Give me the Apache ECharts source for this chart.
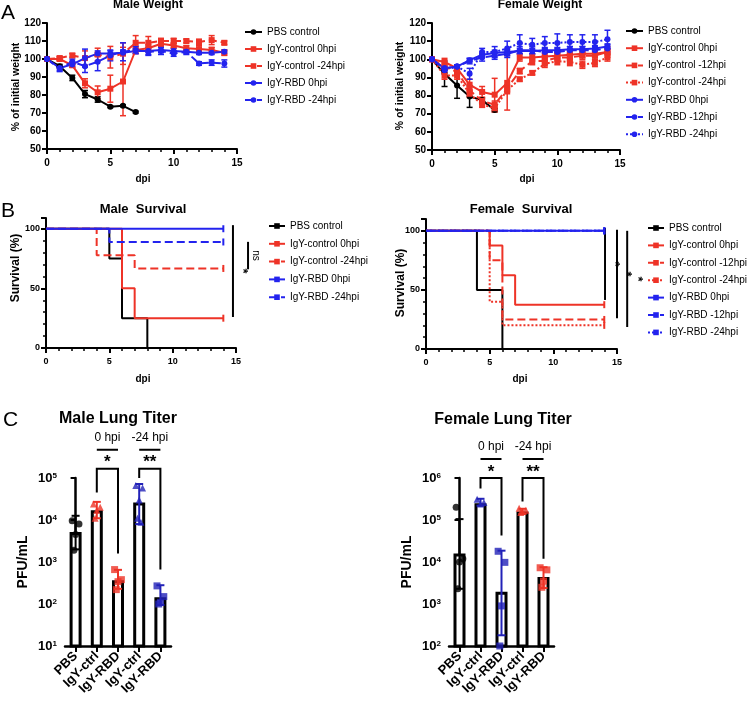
<!DOCTYPE html>
<html>
<head>
<meta charset="UTF-8">
<title>IgY weight, survival and lung titer</title>
<script src="https://cdn.jsdelivr.net/npm/echarts@6/dist/echarts.min.js"></script>
</head>
<body style="margin:0;background:#fff">
<div id="main" style="width:750px;height:703px;"></div>
<script>
// ---- data ----
var days = [0, 1, 2, 3, 4, 5, 6, 7, 8, 9, 10, 11, 12, 13, 14];

// A: male weight (% of initial), mean and SD
var mPBS = [100, 96, 89.5, 80.5, 77.5, 73.5, 74, 70.5];
var mPBSsd = [0, 1, 1.5, 2, 1.5, 0.5, 0.5, 0.5];
var mCtrl0 = [100, 100, 96.5, 86.5, 81.5, 83.5, 87.5, 105, 106, 108.5, 107.5, 106, 105.5, 105, 103.5];
var mCtrl0sd = [0, 1, 1, 2.5, 3.5, 7.5, 19, 2, 2, 1.5, 1.5, 1.5, 2, 1.5, 1.5];
var mCtrl24 = [100, 100.5, 102, 100.5, 102.5, 101, 103, 109, 109, 110, 110, 110, 109.5, 110.5, 109];
var mCtrl24sd = [0, 1, 1, 4, 3.5, 6, 6, 4, 3.5, 1.5, 1.5, 1, 1.5, 2.5, 1];
var mRbd0 = [100, 95, 97, 100.5, 103, 103, 103.5, 104.5, 104.5, 105, 104.5, 104, 103.5, 103.5, 104];
var mRbd0sd = [0, 1.5, 1.5, 5, 1.5, 1.5, 1.5, 1.5, 2, 1.5, 1.5, 1, 1, 1, 1];
var mRbd24 = [100, 94.5, 98.5, 96, 98.5, 102, 104, 105, 104, 104.5, 103, 104, 97.5, 98, 97.5];
var mRbd24sd = [0, 1.5, 1.5, 3.5, 5, 3, 5, 2, 2, 2, 1.5, 1.5, 1, 1.5, 2];

// A: female weight
var fPBS = [100, 92, 85.5, 79.5, 77.5, 72];
var fPBSsd = [0, 7, 7, 6, 1, 1];
var fCtrl0 = [100, 98.5, 95, 86, 82, 80.5, 87, 101, 101, 101.5, 102, 102.5, 103, 103, 104];
var fCtrl0sd = [0, 2, 2, 3, 3, 9, 15, 2, 2, 2, 2, 2, 2, 2, 3];
var fCtrl12 = [100, 96, 93, 83, 77, 75, 84, 93.5, 99, 99, 101, 101, 102, 102, 104];
var fCtrl12sd = [0, 2, 2, 2, 2, 2, 2, 1.5, 2, 2, 2, 2, 2, 2, 2];
var fCtrl24 = [100, 91, 91, 81, 75, 73, 83, 89, 92.5, 97.5, 99, 98.5, 97, 98, 101];
var fCtrl24sd = [0, 2, 2, 2, 1.5, 2, 2, 1, 1, 2, 2, 2, 2, 2, 2];
var fRbd0 = [100, 95, 96, 99.5, 102.5, 103.5, 104, 104.5, 104.5, 105, 105, 105.5, 105.5, 106, 107];
var fRbd0sd = [0, 1, 1, 1, 1.5, 1.5, 1.5, 1.5, 1.5, 1.5, 1.5, 1.5, 1.5, 1.5, 1.5];
var fRbd12 = [100, 94, 96, 99, 101, 102, 103, 105, 105, 104, 104, 105, 105, 105, 106];
var fRbd12sd = [0, 1, 1, 1.5, 2, 2, 2, 2, 2, 2, 2, 2, 2, 2, 2];
var fRbd24 = [100, 95, 96, 92, 104, 104, 106, 109, 108, 109, 109, 109.5, 109.5, 109.5, 111];
var fRbd24sd = [0, 1, 1, 3, 2, 3, 4, 4.5, 3.5, 3.5, 5, 4, 4, 4, 5];

// B: survival steps [day, % surviving]
var smPBS = [[0, 100], [5, 75], [6, 25], [8, 0]];
var smCtrl0 = [[0, 100], [6, 50], [7, 25], [14, 25]];
var smCtrl24 = [[0, 100], [4, 77.8], [7, 66.7], [14, 66.7]];
var smRbd0 = [[0, 100], [14, 100]];
var smRbd24 = [[0, 100], [5, 88.9], [14, 88.9]];
var sfPBS = [[0, 100], [4, 50], [6, 0]];
var sfCtrl0 = [[0, 100], [5, 87.5], [6, 62.5], [7, 37.5], [14, 37.5]];
var sfCtrl12 = [[0, 100], [5, 75], [6, 25], [14, 25]];
var sfCtrl24 = [[0, 100], [5, 40], [6, 20], [14, 20]];
var sfRbd0 = [[0, 100], [14, 100]];
var sfRbd12 = [[0, 100], [14, 100]];
var sfRbd24 = [[0, 100], [14, 100]];
// significance bars: [x, from %, to %]
var smSig = [[14.76, 103, 26], [15.95, 89, 66]];
var smSigText = ['*', 'ns'];
var sfSig = [[14.06, 102.5, 41.5], [15.0, 101, 26], [15.8, 100, 18.6]];
var sfSigText = ['*', '*', '*'];

// C: lung titer (PFU/mL)
var titerCats = ['PBS', 'IgY-ctrl', 'IgY-RBD', 'IgY-ctrl', 'IgY-RBD'];
var mTiter = [5200, 17000, 370, 26000, 145];
var mTiterLo = [2000, 11000, 230, 8000, 95];
var mTiterHi = [12600, 27000, 650, 72000, 280];
var mTiterPts = [[9600, 8000, 4500, 1900], [24000, 20000, 17000, 11000], [660, 380, 340, 220],
                 [66000, 58000, 30000, 11000, 8800], [270, 150, 110, 100]];
var fTiter = [16000, 250000, 1950, 160000, 4400];
var fTiterLo = [2300, 220000, 180, 140000, 2400];
var fTiterHi = [105000, 320000, 18600, 185000, 7500];
var fTiterPts = [[200000, 12000, 10000, 2300], [310000, 260000, 240000], [18000, 9800, 900, 100],
                 [190000, 170000, 160000, 150000], [7300, 6500, 3500, 2500]];
// brackets: [left cat, right cat, left foot, right foot, top]
var mBrackets = [[1, 2, 45000, 1600, 166000], [3, 4, 100000, 660, 166000]];
var fBrackets = [[1, 2, 560000, 43000, 1000000], [3, 4, 275000, 12000, 1000000]];
var bracketStars = ['*', '**'];
var bracketGroups = ['0 hpi', '-24 hpi'];

// ---- styling ----
var FONT = 'Liberation Sans';
var RED = '#ee3327', BLUE = '#2323ee', DBLUE = '#2222b8';
var jitter = [-0.16, 0.16, 0, -0.08, 0.08];
var TICK = 'path://M0,0 L2,0 L2,7 L0,7 Z';

var chart = echarts.init(document.getElementById('main'));
var series = [];

function errRender(color, cap, lw) {
    return function (params, api) {
        var x = api.value(0), lo = api.value(1), hi = api.value(2);
        if (!(hi > lo)) return {type: 'group', children: []};
        var a = api.coord([x, hi]), b = api.coord([x, lo]);
        var c = typeof color === 'function' ? color(params.dataIndex) : color;
        var st = {stroke: c, lineWidth: lw};
        return {type: 'group', children: [
            {type: 'line', shape: {x1: a[0], y1: a[1], x2: b[0], y2: b[1]}, style: st},
            {type: 'line', shape: {x1: a[0] - cap, y1: a[1], x2: a[0] + cap, y2: a[1]}, style: st},
            {type: 'line', shape: {x1: b[0] - cap, y1: b[1], x2: b[0] + cap, y2: b[1]}, style: st}
        ]};
    };
}

function addWeight(gi, key, name, vals, sd, color, sym, dash) {
    series.push({
        name: key + '|' + name, type: 'line', xAxisIndex: gi, yAxisIndex: gi,
        data: vals.map(function (v, i) { return [days[i], v]; }),
        symbol: sym, symbolSize: 6, showSymbol: true,
        itemStyle: {color: color}, lineStyle: {color: color, width: 2, type: dash},
        z: 3, animation: false
    });
    series.push({
        type: 'custom', xAxisIndex: gi, yAxisIndex: gi, clip: false, silent: true, z: 2,
        data: vals.map(function (v, i) { return [days[i], v - sd[i], v + sd[i]]; }),
        renderItem: errRender(color, 3, 1.5), animation: false
    });
}

// censor tick only on the final day; legend picks up the same tick
function addSurv(gi, key, name, pts, color, dash) {
    series.push({
        name: key + '|' + name, type: 'line', step: 'end', xAxisIndex: gi, yAxisIndex: gi,
        data: pts.map(function (p, i) {
            if (i === pts.length - 1 && p[0] === 14) return p;
            return {value: p, symbol: 'none'};
        }),
        symbol: TICK, symbolSize: [2, 7], showSymbol: true, itemStyle: {color: color},
        lineStyle: {color: color, width: 2, type: dash}, animation: false
    });
}

function addSig(gi, rows, labels) {
    series.push({
        type: 'custom', xAxisIndex: gi, yAxisIndex: gi, clip: false, silent: true,
        data: rows, encode: {x: 0, y: 1}, animation: false,
        renderItem: function (params, api) {
            var a = api.coord([api.value(0), api.value(1)]);
            var b = api.coord([api.value(0), api.value(2)]);
            var t = labels[params.dataIndex];
            return {type: 'group', children: [
                {type: 'line', shape: {x1: a[0], y1: a[1], x2: b[0], y2: b[1]}, style: {stroke: '#000', lineWidth: 2}},
                {type: 'text', x: a[0] + (t === '*' ? 10 : 8), y: (a[1] + b[1]) / 2, rotation: -Math.PI / 2,
                    style: {text: t, font: (t === '*' ? 'bold 13px ' : '10px ') + FONT, fill: '#000',
                        align: 'center', verticalAlign: 'middle', textAlign: 'center', textVerticalAlign: 'middle'}}
            ]};
        }
    });
}

function addTiter(xi, vx, yi, means, lo, hi, pts, colors, syms, brackets) {
    series.push({
        type: 'bar', xAxisIndex: xi, yAxisIndex: yi, data: means, barWidth: 12, z: 2,
        itemStyle: {color: '#fff', borderColor: '#000', borderWidth: 3}, animation: false
    });
    series.push({
        type: 'custom', xAxisIndex: vx, yAxisIndex: yi, clip: false, silent: true, z: 3,
        data: means.map(function (m, i) { return [i, lo[i], hi[i]]; }),
        renderItem: errRender(function (i) { return colors[i]; }, 4, 2), animation: false
    });
    var sc = [];
    pts.forEach(function (row, i) {
        row.forEach(function (v, j) {
            sc.push({value: [i + jitter[j % jitter.length], v], symbol: syms[i], itemStyle: {color: colors[i]}});
        });
    });
    series.push({type: 'scatter', xAxisIndex: vx, yAxisIndex: yi, data: sc, symbolSize: 7, z: 4, animation: false});
    series.push({
        type: 'custom', xAxisIndex: vx, yAxisIndex: yi, clip: false, silent: true, z: 5,
        data: brackets, encode: {x: 0, y: 2}, animation: false,
        renderItem: function (params, api) {
            var p0 = api.coord([api.value(0), api.value(2)]);
            var p1 = api.coord([api.value(0), api.value(4)]);
            var p2 = api.coord([api.value(1), api.value(4)]);
            var p3 = api.coord([api.value(1), api.value(3)]);
            var mx = (p1[0] + p2[0]) / 2, ty = p1[1];
            var ts = {fill: '#000', align: 'center', verticalAlign: 'middle', textAlign: 'center', textVerticalAlign: 'middle'};
            return {type: 'group', children: [
                {type: 'polyline', shape: {points: [p0, p1, p2, p3]}, style: {stroke: '#000', lineWidth: 2, fill: 'none'}},
                {type: 'text', x: mx, y: ty - 6, style: Object.assign({text: bracketStars[params.dataIndex], font: 'bold 17px ' + FONT}, ts)},
                {type: 'line', shape: {x1: p1[0], y1: ty - 19, x2: p2[0], y2: ty - 19}, style: {stroke: '#000', lineWidth: 2}},
                {type: 'text', x: mx, y: ty - 31, style: Object.assign({text: bracketGroups[params.dataIndex], font: '12px ' + FONT}, ts)}
            ]};
        }
    });
}

// A
addWeight(0, 'mw', 'PBS control', mPBS, mPBSsd, '#000', 'circle', 'solid');
addWeight(0, 'mw', 'IgY-control 0hpi', mCtrl0, mCtrl0sd, RED, 'rect', 'solid');
addWeight(0, 'mw', 'IgY-control -24hpi', mCtrl24, mCtrl24sd, RED, 'rect', 'dashed');
addWeight(0, 'mw', 'IgY-RBD 0hpi', mRbd0, mRbd0sd, BLUE, 'circle', 'solid');
addWeight(0, 'mw', 'IgY-RBD -24hpi', mRbd24, mRbd24sd, BLUE, 'circle', 'dashed');

addWeight(1, 'fw', 'PBS control', fPBS, fPBSsd, '#000', 'circle', 'solid');
addWeight(1, 'fw', 'IgY-control 0hpi', fCtrl0, fCtrl0sd, RED, 'rect', 'solid');
addWeight(1, 'fw', 'IgY-control -12hpi', fCtrl12, fCtrl12sd, RED, 'rect', 'dashed');
addWeight(1, 'fw', 'IgY-control -24hpi', fCtrl24, fCtrl24sd, RED, 'rect', 'dotted');
addWeight(1, 'fw', 'IgY-RBD 0hpi', fRbd0, fRbd0sd, BLUE, 'circle', 'solid');
addWeight(1, 'fw', 'IgY-RBD -12hpi', fRbd12, fRbd12sd, BLUE, 'circle', 'dashed');
addWeight(1, 'fw', 'IgY-RBD -24hpi', fRbd24, fRbd24sd, BLUE, 'circle', 'dotted');

// B
addSurv(2, 'ms', 'PBS control', smPBS, '#000', 'solid');
addSurv(2, 'ms', 'IgY-control 0hpi', smCtrl0, RED, 'solid');
addSurv(2, 'ms', 'IgY-control -24hpi', smCtrl24, RED, 'dashed');
addSurv(2, 'ms', 'IgY-RBD 0hpi', smRbd0, BLUE, 'solid');
addSurv(2, 'ms', 'IgY-RBD -24hpi', smRbd24, BLUE, 'dashed');
addSig(2, smSig, smSigText);

addSurv(3, 'fs', 'PBS control', sfPBS, '#000', 'solid');
addSurv(3, 'fs', 'IgY-control 0hpi', sfCtrl0, RED, 'solid');
addSurv(3, 'fs', 'IgY-control -12hpi', sfCtrl12, RED, 'dashed');
addSurv(3, 'fs', 'IgY-control -24hpi', sfCtrl24, RED, 'dotted');
addSurv(3, 'fs', 'IgY-RBD 0hpi', sfRbd0, BLUE, 'solid');
addSurv(3, 'fs', 'IgY-RBD -12hpi', sfRbd12, BLUE, 'dashed');
addSurv(3, 'fs', 'IgY-RBD -24hpi', sfRbd24, BLUE, 'dotted');
addSig(3, sfSig, sfSigText);

// C
addTiter(4, 6, 4, mTiter, mTiterLo, mTiterHi, mTiterPts,
    ['#000', RED, RED, DBLUE, DBLUE], ['circle', 'triangle', 'rect', 'triangle', 'rect'], mBrackets);
addTiter(5, 7, 5, fTiter, fTiterLo, fTiterHi, fTiterPts,
    ['#000', DBLUE, DBLUE, RED, RED], ['circle', 'triangle', 'rect', 'triangle', 'rect'], fBrackets);

// ---- axes ----
var black = {color: '#000', width: 2};
function dayAxis(gi, labelSize, margin) {
    return {
        type: 'value', gridIndex: gi, min: 0, max: 15, interval: 5,
        axisLine: {show: true, lineStyle: black},
        axisTick: {show: true, length: 5, lineStyle: black},
        minorTick: {show: true, splitNumber: 5, length: 3, lineStyle: {color: '#000', width: 1.5}},
        splitLine: {show: false},
        axisLabel: {color: '#000', fontWeight: 'bold', fontSize: labelSize, margin: margin}
    };
}
function valAxis(gi, min, max, interval, labelSize, minor) {
    return {
        type: 'value', gridIndex: gi, min: min, max: max, interval: interval,
        axisLine: {show: true, lineStyle: black},
        axisTick: {show: true, length: 5, lineStyle: black},
        minorTick: {show: minor, splitNumber: 5, length: 3, lineStyle: {color: '#000', width: 1.5}},
        splitLine: {show: false},
        axisLabel: {color: '#000', fontWeight: 'bold', fontSize: labelSize, margin: 6, showMaxLabel: interval === 10}
    };
}
function catAxis(gi) {
    return {
        type: 'category', gridIndex: gi, data: titerCats,
        axisLine: {show: true, lineStyle: {color: '#000', width: 2.5}},
        axisTick: {show: true, alignWithLabel: true, length: 6, lineStyle: {color: '#000', width: 2}},
        axisLabel: {color: '#000', fontWeight: 'bold', fontSize: 13, rotate: 45, interval: 0, margin: 8}
    };
}
function logAxis(gi, min, max) {
    return {
        type: 'log', logBase: 10, gridIndex: gi, min: min, max: max, offset: 2,
        axisLine: {show: true, lineStyle: {color: '#000', width: 2.5}},
        axisTick: {show: true, length: 5, lineStyle: {color: '#000', width: 2}},
        splitLine: {show: false},
        axisLabel: {
            margin: 6,
            formatter: function (v) { return '{b|10}{s|' + Math.round(Math.log10(v)) + '}'; },
            rich: {
                b: {fontSize: 13, fontWeight: 'bold', color: '#000', fontFamily: FONT},
                s: {fontSize: 8, fontWeight: 'bold', color: '#000', fontFamily: FONT, verticalAlign: 'top'}
            }
        }
    };
}

function legend(key, left, top, gap, iw, names) {
    return {
        orient: 'vertical', left: left, top: top, padding: 0, itemGap: gap, itemWidth: iw, itemHeight: 7,
        selectedMode: false,
        textStyle: {fontSize: 10, color: '#000', fontFamily: FONT, lineHeight: 12},
        formatter: function (n) { return n.split('|')[1]; },
        data: names.map(function (n) { return key + '|' + n; })
    };
}
var maleNames = ['PBS control', 'IgY-control 0hpi', 'IgY-control -24hpi', 'IgY-RBD 0hpi', 'IgY-RBD -24hpi'];
var femNames = ['PBS control', 'IgY-control 0hpi', 'IgY-control -12hpi', 'IgY-control -24hpi',
    'IgY-RBD 0hpi', 'IgY-RBD -12hpi', 'IgY-RBD -24hpi'];

function txt(text, x, y, font, align, rot) {
    return {
        type: 'text', x: x, y: y, rotation: rot || 0, silent: true,
        style: {text: text, font: font + ' ' + FONT, fill: '#000',
            align: align || 'center', verticalAlign: 'middle',
            textAlign: align || 'center', textVerticalAlign: 'middle'}
    };
}
var R = Math.PI / 2;

chart.setOption({
    animation: false,
    textStyle: {fontFamily: FONT},
    grid: [
        {left: 47, top: 23, width: 190, height: 126},
        {left: 432, top: 23, width: 188, height: 127},
        {left: 46, top: 218, width: 190, height: 130},
        {left: 426, top: 219, width: 191, height: 130},
        {left: 65, top: 478, width: 106, height: 168},
        {left: 449, top: 478, width: 105, height: 168}
    ],
    xAxis: [
        dayAxis(0, 10, 9), dayAxis(1, 10, 9), dayAxis(2, 9, 9), dayAxis(3, 9, 9),
        catAxis(4), catAxis(5),
        {type: 'value', gridIndex: 4, min: -0.5, max: 4.5, show: false},
        {type: 'value', gridIndex: 5, min: -0.5, max: 4.5, show: false}
    ],
    yAxis: [
        valAxis(0, 50, 120, 10, 10, false), valAxis(1, 50, 120, 10, 10, false),
        valAxis(2, 0, 109, 50, 9, true), valAxis(3, 0, 110, 50, 9, true),
        logAxis(4, 10, 100000), logAxis(5, 100, 1000000)
    ],
    legend: [
        legend('mw', 244, 26, 5, 17, maleNames),
        legend('fw', 625, 25, 5.2, 17, femNames),
        legend('ms', 268, 220, 5.8, 16, maleNames),
        legend('fs', 647, 222, 5.4, 16, femNames)
    ],
    graphic: [
        txt('A', 1, 13, '21px', 'left'),
        txt('B', 1, 211, '21px', 'left'),
        txt('C', 3, 420, '21px', 'left'),
        txt('Male Weight', 148, 5, 'bold 12px'),
        txt('Female Weight', 540, 5, 'bold 12px'),
        txt('Male  Survival', 143, 209, 'bold 13px'),
        txt('Female  Survival', 521, 209, 'bold 13px'),
        txt('Male Lung Titer', 118, 419, 'bold 16px'),
        txt('Female Lung Titer', 503, 420, 'bold 16px'),
        txt('% of initial weight', 16, 87, 'bold 10.5px', 'center', R),
        txt('% of initial weight', 400, 86, 'bold 10.5px', 'center', R),
        txt('dpi', 143, 179, 'bold 10px'),
        txt('dpi', 527, 179, 'bold 10px'),
        txt('Survival (%)', 16, 268, 'bold 12px', 'center', R),
        txt('Survival (%)', 401, 283, 'bold 12px', 'center', R),
        txt('dpi', 143, 379, 'bold 10px'),
        txt('dpi', 520, 379, 'bold 10px'),
        txt('PFU/mL', 23, 562, 'bold 14px', 'center', R),
        txt('PFU/mL', 407, 562, 'bold 14px', 'center', R)
    ],
    series: series
});
</script>
</body>
</html>
